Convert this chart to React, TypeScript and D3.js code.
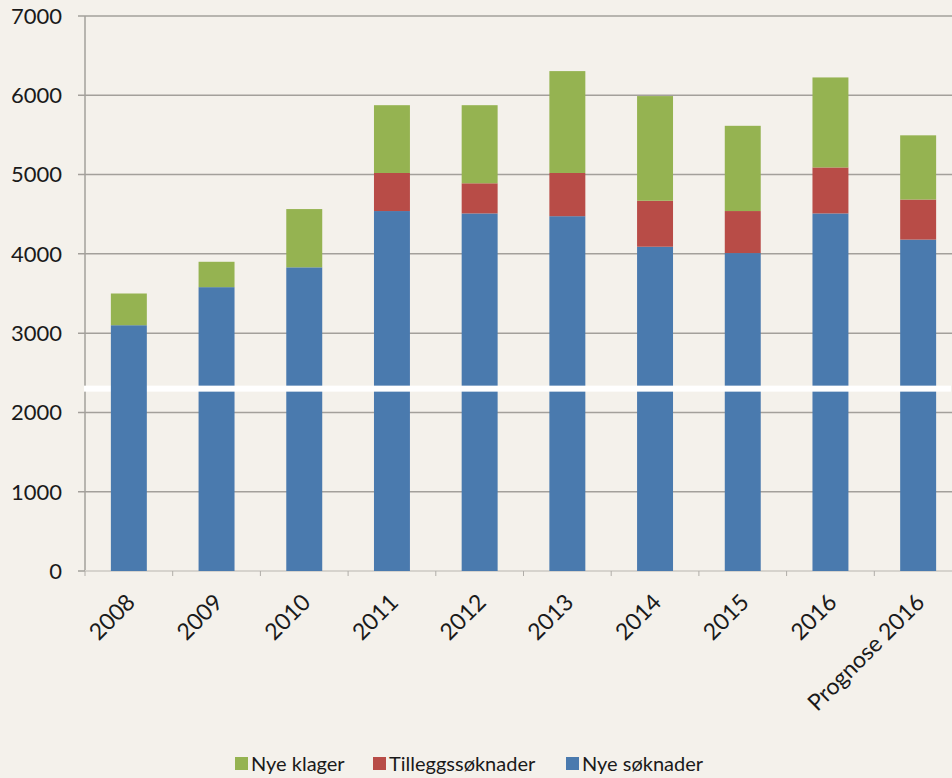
import React from "react";
import * as d3 from "d3";

const categories = ["2008", "2009", "2010", "2011", "2012", "2013", "2014", "2015", "2016", "Prognose 2016"];
const nyeSoknader = [3100, 3580, 3830, 4540, 4510, 4475, 4090, 4010, 4510, 4180];
const tilleggssoknader = [0, 0, 0, 480, 380, 545, 580, 530, 580, 505];
const nyeKlager = [400, 320, 735, 855, 985, 1285, 1320, 1075, 1135, 810];
const yTicks = [0, 1000, 2000, 3000, 4000, 5000, 6000, 7000];
const seriesKeys = ["nyeSoknader", "tilleggssoknader", "nyeKlager"];
const seriesColors: Record<string, string> = {
  nyeSoknader: "#4a7aae",
  tilleggssoknader: "#b84c47",
  nyeKlager: "#95b351",
};
const legendItems = [
  { key: "nyeKlager", label: "Nye klager" },
  { key: "tilleggssoknader", label: "Tilleggssøknader" },
  { key: "nyeSoknader", label: "Nye søknader" },
];
const breakValue = 2300;

export default function App() {
  const W = 952, H = 778;
  const x0 = 85, x1 = 962, yTop = 16, yBot = 571;
  const font = "Lato, 'Open Sans', sans-serif";

  const rows = categories.map((c, i) => ({
    cat: c,
    nyeSoknader: nyeSoknader[i],
    tilleggssoknader: tilleggssoknader[i],
    nyeKlager: nyeKlager[i],
  }));
  const stacked = d3.stack<any>().keys(seriesKeys)(rows);

  const x = d3.scaleBand<string>().domain(categories).range([x0, x1]).paddingInner(0.59).paddingOuter(0.295);
  const y = d3.scaleLinear().domain([0, 7000]).range([yBot, yTop]);
  const step = x.step();
  const bounds = d3.range(categories.length + 1).map((i) => x0 + i * step);
  const yb = y(breakValue);

  return (
    <svg width={W} height={H} style={{ position: "absolute", left: 0, top: 0, background: "#f4f1eb" }}>
      <rect x={0} y={0} width={W} height={H} fill="#f4f1eb" />
      {yTicks.map((t) => (
        <g key={t}>
          {t > 0 && <line x1={78} x2={W} y1={y(t)} y2={y(t)} stroke="#a3a09b" strokeWidth={1.5} />}
          <text x={62} y={y(t)} dy="0.36em" textAnchor="end" fontFamily={font} fontSize={22} fill="#1a1a1a">
            {t}
          </text>
        </g>
      ))}
      <line x1={x0} x2={x0} y1={yTop} y2={yBot} stroke="#a3a09b" strokeWidth={1.5} />
      <line x1={78} x2={x0} y1={yBot} y2={yBot} stroke="#a3a09b" strokeWidth={1.5} />
      <line x1={x0} x2={W} y1={yBot} y2={yBot} stroke="#d6d3cd" strokeWidth={2} />
      {bounds.map((b, i) => (
        <line key={i} x1={b} x2={b} y1={yBot} y2={yBot + 5} stroke="#b0ada8" strokeWidth={1} />
      ))}
      {stacked.map((s) =>
        s.map((d, i) =>
          i === 0 ? null : (
            <rect
              key={s.key + i}
              x={x(categories[i])}
              width={x.bandwidth()}
              y={y(d[1])}
              height={y(d[0]) - y(d[1])}
              fill={seriesColors[s.key]}
            />
          )
        )
      )}
      <rect x={x0 - 1} y={yb - 3} width={W - x0} height={6} fill="#ffffff" />
      {stacked.map((s) => {
        const d = s[0];
        return (
          <rect
            key={s.key + "first"}
            x={x(categories[0])}
            width={x.bandwidth()}
            y={y(d[1])}
            height={y(d[0]) - y(d[1])}
            fill={seriesColors[s.key]}
          />
        );
      })}
      {categories.map((c) => {
        const cx = (x(c) as number) + x.bandwidth() / 2;
        return (
          <text
            key={c}
            transform={`translate(${cx + 2},${yBot + 27}) rotate(-45)`}
            textAnchor="end"
            dy="0.35em"
            fontFamily={font}
            fontSize={23}
            fill="#1a1a1a"
          >
            {c}
          </text>
        );
      })}
      {(() => {
        const positions = [235, 373, 566];
        return legendItems.map((it, i) => (
          <g key={it.key} transform={`translate(${positions[i]},757)`}>
            <rect x={0} y={0} width={13} height={13} fill={seriesColors[it.key]} />
            <text x={16} y={7} dy="0.36em" fontFamily={font} fontSize={20} fill="#1a1a1a">
              {it.label}
            </text>
          </g>
        ));
      })()}
    </svg>
  );
}
